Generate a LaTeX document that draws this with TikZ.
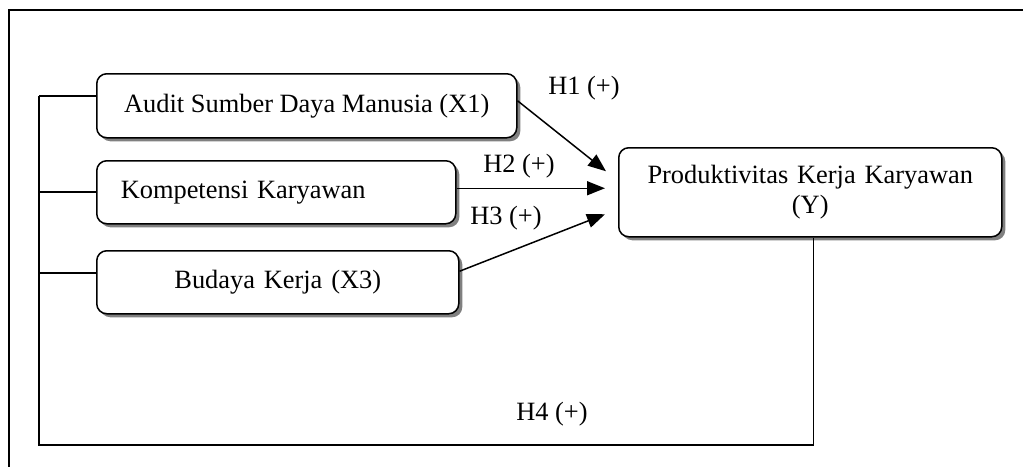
\documentclass[tikz,border=0pt]{standalone}
\usepackage{fontspec}
\setmainfont{Liberation Serif}
\usetikzlibrary{arrows.meta,positioning,shadows}
\tikzstyle{block} = [rectangle, draw, fill=white, line width=1.5pt,
    rounded corners=10pt, minimum height=64pt, inner xsep=24pt,
    drop shadow={shadow xshift=3.5pt, shadow yshift=-3.5pt, fill=black!50, opacity=1}]
\tikzstyle{line} = [draw, line width=1.5pt]
\tikzstyle{arrow} = [draw, line width=1.5pt, -{Triangle[length=18pt,width=14pt]}]
\tikzstyle{hyp} = [inner sep=0pt]

\begin{document}
\begin{tikzpicture}[x=1pt, y=-1pt, font=\fontsize{26.4}{30}\selectfont]
        \useasboundingbox (0,0) rectangle (1023,466);
        % outer frame
        \draw [line width=2pt] (9,480) -- (9,10) -- (1040,10);

        \node [block, anchor=north west, minimum width=420pt, inner xsep=0pt] (audit) at (96,73) {Audit Sumber Daya Manusia (X1)};
        \node [block, anchor=north west, text width=311pt, align=left, minimum height=63pt] (komp) at (96,160) {Kompetensi Karyawan};
        \node [block, anchor=north west, text width=314pt, align=center, minimum height=63pt] (budaya) at (96,250) {Budaya Kerja (X3)};
        \node [block, anchor=north west, text width=335pt, align=center, minimum height=89pt] (prod) at (618,147) {Produktivitas Kerja Karyawan\\(Y)};

        % left bus
        \coordinate (busA) at (39,96);
        \coordinate (busK) at (39,192);
        \coordinate (busB) at (39,273);
        \coordinate (busE) at (39,445);
        \path [line] (busA) -- (audit.west |- busA);
        \path [line] (busK) -- (komp.west |- busK);
        \path [line] (busB) -- (budaya.west |- busB);
        \path [line] (busA) -- (busE) -- ([xshift=3pt]prod.south |- busE) -- ([xshift=3pt]prod.south);

        % hypotheses
        \coordinate (tip1) at ([xshift=-12pt, yshift=21pt]prod.west);
        \coordinate (tip2) at ([xshift=-13pt, yshift=4pt]prod.west);
        \coordinate (tip3) at ([xshift=-13pt, yshift=-22pt]prod.west);
        \path [arrow] ([yshift=5pt]audit.east) -- (tip1);
        \path [arrow] (komp.east |- tip2) -- (tip2);
        \path [arrow] ([yshift=11pt]budaya.east) -- (tip3);

        \node [hyp] (h1) at (584,88) {H1 (+)};
        \node [hyp] (h2) at (519,166) {H2 (+)};
        \node [hyp] (h3) at (506,218) {H3 (+)};
        \node [hyp] (h4) at (552,414) {H4 (+)};
    \end{tikzpicture}
\end{document}
